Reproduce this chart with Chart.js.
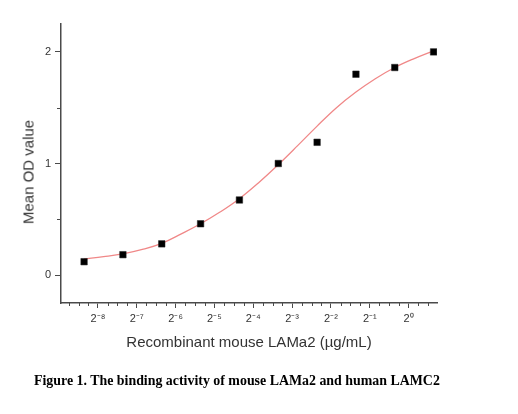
<!DOCTYPE html>
<html>
<head>
<meta charset="utf-8">
<script src="https://cdn.jsdelivr.net/npm/chart.js@4.4.1/dist/chart.umd.min.js"></script>
<style>
    body { margin: 0; background: #fff; }
    #wrap { position: relative; width: 518px; height: 414px; }
    #caption {
        position: absolute;
        left: 34px;
        top: 373px;
        font-family: "Liberation Serif", "Times New Roman", serif;
        font-weight: bold;
        font-size: 13.9px;
        color: #000;
        white-space: nowrap;
    }
    #ytitle {
        position: absolute;
        left: 28px;
        top: 172px;
        transform: translate(-50%, -50%) rotate(-90deg);
        font-family: "Liberation Sans", Arial, sans-serif;
        font-size: 15px;
        color: #333;
        white-space: nowrap;
    }
</style>
</head>
<body>
<div id="wrap">
    <canvas id="myChart" width="518" height="414"></canvas>
    <div id="ytitle">Mean OD value</div>
    <div id="caption">Figure 1. The binding activity of mouse LAMa2 and human LAMC2</div>
</div>
<script>
// concentrations (µg/mL) and measured OD
const concentrations = [0.00305, 0.0061, 0.0122, 0.0244, 0.0488, 0.0977, 0.1953, 0.3906, 0.7813, 1.5625];
const meanOD = [0.12, 0.183, 0.28, 0.46, 0.673, 1.0, 1.19, 1.80, 1.86, 2.0];

// fitted curve
const fitConcentrations = [0.00305, 0.00432, 0.0061, 0.00863, 0.0122, 0.0173, 0.0244, 0.0345, 0.0488,
    0.0691, 0.0977, 0.138, 0.1953, 0.276, 0.3906, 0.552, 0.7813, 1.105, 1.5625];
const fitOD = [0.145, 0.165, 0.19, 0.23, 0.285, 0.37, 0.46, 0.565, 0.685,
    0.83, 0.99, 1.16, 1.335, 1.50, 1.64, 1.76, 1.86, 1.94, 2.01];

const xTickValues = [0.00390625, 0.0078125, 0.015625, 0.03125, 0.0625, 0.125, 0.25, 0.5, 1];
const xTickLabels = ['2⁻⁸', '2⁻⁷', '2⁻⁶', '2⁻⁵', '2⁻⁴', '2⁻³', '2⁻²', '2⁻¹', '2⁰'];
const yTickValues = [0, 1, 2];
const yMinorTicks = [0.5, 1.5];

const axisColor = '#4a4a4a';
const textColor = '#333';

const minorTicks = {
    id: 'minorTicks',
    afterDraw(chart) {
        const c = chart.ctx;
        const xs = chart.scales.x;
        const ys = chart.scales.y;
        c.save();
        c.strokeStyle = axisColor;
        c.lineWidth = 1;
        c.beginPath();
        for (let e = -8.75; e <= 0.5; e += 0.25) {
            if (Number.isInteger(e)) continue;
            const px = Math.round(xs.getPixelForValue(Math.pow(2, e))) + 0.5;
            c.moveTo(px, xs.top);
            c.lineTo(px, xs.top + 3);
        }
        yMinorTicks.forEach(v => {
            const py = Math.round(ys.getPixelForValue(v)) + 0.5;
            c.moveTo(ys.right, py);
            c.lineTo(ys.right - 4, py);
        });
        c.stroke();
        c.restore();
    }
};

const ctx = document.getElementById('myChart').getContext('2d');

new Chart(ctx, {
    type: 'scatter',
    data: {
        datasets: [{
            label: 'Mean OD',
            data: concentrations.map((c, i) => ({ x: c, y: meanOD[i] })),
            pointStyle: 'rect',
            pointRadius: 4.6,
            backgroundColor: '#000',
            borderColor: '#222',
            borderWidth: 0.5,
            order: 0
        }, {
            label: 'Fit',
            type: 'line',
            data: fitConcentrations.map((c, i) => ({ x: c, y: fitOD[i] })),
            borderColor: '#f08888',
            borderWidth: 1.3,
            pointRadius: 0,
            tension: 0.4,
            fill: false,
            order: 1
        }]
    },
    options: {
        responsive: false,
        animation: false,
        devicePixelRatio: 1,
        layout: {
            padding: { left: 0, top: 24, right: 81, bottom: 61 }
        },
        plugins: {
            legend: { display: false },
            tooltip: { enabled: false }
        },
        scales: {
            x: {
                type: 'logarithmic',
                min: 0.00202,
                max: 1.66,
                afterBuildTicks: scale => {
                    scale.ticks = xTickValues.map(v => ({ value: v }));
                },
                afterFit: scale => {
                    scale.height = 50;
                },
                ticks: {
                    autoSkip: false,
                    maxRotation: 0,
                    padding: 4,
                    color: textColor,
                    font: { family: 'Liberation Sans, Arial', size: 11 },
                    callback: (value, index) => xTickLabels[index]
                },
                grid: {
                    drawOnChartArea: false,
                    drawTicks: true,
                    tickLength: 5,
                    tickColor: axisColor,
                    tickWidth: 1
                },
                border: { color: axisColor, width: 1.5 },
                title: {
                    display: true,
                    text: 'Recombinant mouse LAMa2 (µg/mL)',
                    color: textColor,
                    font: { family: 'Liberation Sans, Arial', size: 15 },
                    padding: { top: 0, bottom: 1 }
                }
            },
            y: {
                min: -0.25,
                max: 2.25,
                afterBuildTicks: scale => {
                    scale.ticks = yTickValues.map(v => ({ value: v }));
                },
                afterFit: scale => {
                    scale.width = 61;
                },
                ticks: {
                    padding: 4,
                    color: textColor,
                    font: { family: 'Liberation Sans, Arial', size: 11 }
                },
                grid: {
                    drawOnChartArea: false,
                    drawTicks: true,
                    tickLength: 6,
                    tickColor: axisColor,
                    tickWidth: 1
                },
                border: { color: axisColor, width: 1.5 }
            }
        }
    },
    plugins: [minorTicks]
});
</script>
</body>
</html>
